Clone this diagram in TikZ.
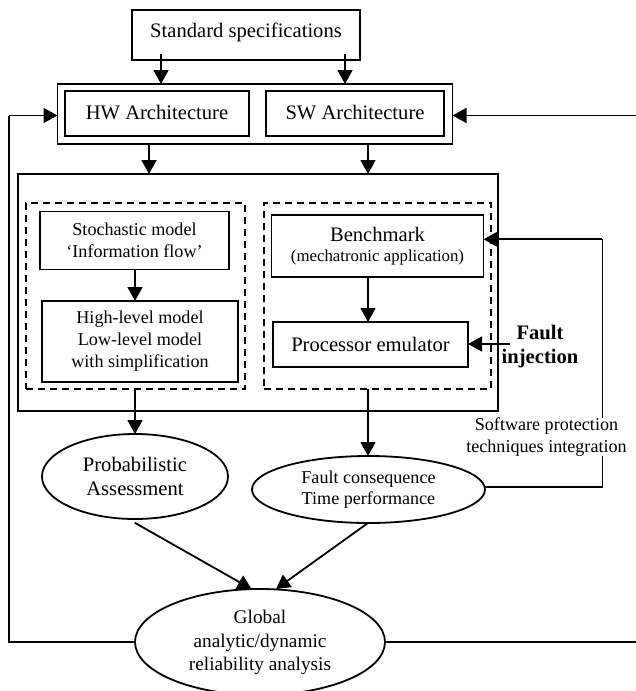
\documentclass[tikz,border=0pt]{standalone}
\usepackage{fontspec}
\setmainfont{Liberation Serif}
\usetikzlibrary{shapes.geometric,arrows.meta}
\newcommand{\fa}{\fontsize{20.6}{21.5}\selectfont}
\newcommand{\fb}{\fontsize{18.1}{21.5}\selectfont}
\tikzset{
 x=1pt,y=-1pt,
 box/.style={draw,line width=1.8pt,inner sep=0pt,outer sep=0pt,align=center,font=\fa},
 dbox/.style={draw,line width=1.6pt,dash pattern=on 7pt off 5pt,inner sep=0pt,outer sep=0pt},
 oval/.style={draw,line width=1.8pt,ellipse,inner sep=0pt,outer sep=0pt,align=center,font=\fa},
 con/.style={line width=1.8pt,-{Triangle[length=14pt,width=15pt]}},
 pln/.style={line width=1.8pt},
 txt/.style={inner sep=0pt,outer sep=0pt,align=center},
}
\begin{document}
\begin{tikzpicture}
\useasboundingbox (0,0) rectangle (636,691);
\node[box,minimum width=228pt,minimum height=50pt] (std) at (246,35) {\raisebox{10pt}{Standard specifications}};
\node[box,minimum width=395pt,minimum height=60pt] (arch) at (255,114) {};
\node[box,minimum width=184pt,minimum height=45pt] (hw) at (157,113.5) {\raisebox{2pt}{HW Architecture}};
\node[box,minimum width=178pt,minimum height=45pt] (sw) at (355,113.5) {\raisebox{2pt}{SW Architecture}};
\node[box,minimum width=480pt,minimum height=237pt] (big) at (258,292.5) {};
\node[dbox,minimum width=219pt,minimum height=186pt] (dl) at (135.5,296) {};
\node[dbox,minimum width=227pt,minimum height=186pt] (dr) at (377.5,296) {};
\node[box,minimum width=189pt,minimum height=58pt,font=\fb] (sto) at (134.5,240.5) {Stochastic model\\‘Information flow’};
\node[box,minimum width=196pt,minimum height=81pt,font=\fb] (hl) at (140,341.5) {High-level model\\[0.5pt]Low-level model\\[0.5pt]with simplification};
\node[box,minimum width=212pt,minimum height=62pt] (ben) at (377.5,246) {\raisebox{-1pt}{Benchmark}\\{\fontsize{16.8}{20}\selectfont (mechatronic application)}};
\node[box,minimum width=195pt,minimum height=45pt] (proc) at (370.5,344.5) {\raisebox{1pt}{Processor emulator}};
\node[txt,font=\fa\bfseries] (fi) at (540,347) {Fault\\[2.5pt]injection};
\node[oval,minimum width=186pt,minimum height=85pt] (pa) at (135,476.5) {Probabilistic\\[2pt]Assessment};
\node[oval,minimum width=233pt,minimum height=67pt,font=\fb] (fc) at (368.5,489.5) {Fault consequence\\Time performance};
\node[oval,minimum width=250pt,minimum height=106pt,font=\fontsize{19.3}{23}\selectfont] (gl) at (260,642) {\raisebox{1pt}{Global}\\analytic/dynamic\\reliability analysis};
\coordinate (ra) at (636,115.5);
\coordinate (lg) at (9,642);
\coordinate (l1) at (9,115.5);
\coordinate (rg) at (636,642);
\coordinate (f1) at (602.4,487);
\coordinate (f2) at (602.4,239.3);
\coordinate (s1) at (161,54);
\coordinate (s2) at (345,54);
\coordinate (a1) at (149,144);
\coordinate (a2) at (368,144);
\coordinate (fs) at (510,344);
\coordinate (pe) at (251.5,589);
\coordinate (ge) at (276,589);
\coordinate (ps) at (134.7,522.7);
\coordinate (fe) at (368,523);
\draw[con] (s1) -- (s1 |- arch.north);
\draw[con] (s2) -- (s2 |- arch.north);
\draw[con] (a1) -- (a1 |- big.north);
\draw[con] (a2) -- (a2 |- big.north);
\draw[con] (sto.south -| pa.north) -- (pa.north |- hl.north);
\draw[con] (ben.south -| a2) -- (a2 |- proc.north);
\draw[con] (pa.north |- dl.south) -- (pa.north);
\draw[con] (a2 |- dr.south) -- (a2 |- fc.north);
\draw[con] (ra) -- (arch.east |- ra);
\draw[pln] (gl.west) -- (lg) -- (l1);
\draw[con] (l1) -- (arch.west |- l1);
\draw[pln] (gl.east) -- (rg);
\draw[pln] (fc.east |- f1) -- (f1) -- (f2);
\draw[con] (f2) -- (ben.east |- f2);
\draw[con] (fs) -- (proc.east |- fs);
\draw[con] (ps) -- (pe);
\draw[con] (fe) -- (ge);
\node[txt,font=\fb,fill=white,inner ysep=0pt] (sp) at (546.5,437) {Software protection\\techniques integration};
\end{tikzpicture}
\end{document}
